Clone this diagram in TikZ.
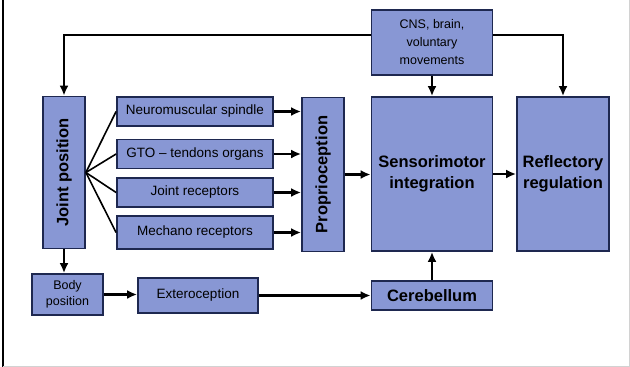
\documentclass[tikz,border=0pt]{standalone}
\usepackage{fontspec}
\usepackage{graphicx}
\setmainfont{Liberation Sans}
\usetikzlibrary{arrows.meta}
\definecolor{boxblue}{RGB}{136,151,212}
\definecolor{boxline}{RGB}{30,40,80}
\begin{document}
\begin{tikzpicture}[x=1pt,y=-1pt,
  main/.style={draw=boxline,line width=1.8pt,fill=boxblue,inner sep=1pt,align=center,font=\fontsize{13.5}{18}\selectfont},
  big/.style={main,font=\bfseries\fontsize{16.5}{21}\selectfont},
  arr/.style={-{Latex[length=10pt,width=9pt]},line width=2.2pt}]
\path[use as bounding box] (0,0) rectangle (630,367);
\draw[line width=1.8pt] (3,0) -- (3,367);
\draw[gray!35] (3,366) -- (629,366) -- (629,0);
% boxes
\node[main,minimum width=121,minimum height=65,font=\fontsize{12.5}{18}\selectfont] (cns) at (432,42.5) {CNS, brain,\\voluntary\\movements};
\node[big,minimum width=42,minimum height=152] (jp) at (64,172.5) {\rotatebox{90}{Joint position}};
\node[main,minimum width=156,minimum height=29] (ns) at (195,111.5) {Neuromuscular spindle};
\node[main,minimum width=156,minimum height=29] (gto) at (195,154) {GTO -- tendons organs};
\node[main,minimum width=156,minimum height=29] (jr) at (195,192.5) {Joint receptors};
\node[main,minimum width=156,minimum height=33] (mr) at (195,232.5) {Mechano receptors};
\node[big,minimum width=42,minimum height=154] (pro) at (323,174.5) {\rotatebox{90}{Proprioception}};
\node[big,minimum width=121,minimum height=154] (smi) at (432,174) {Sensorimotor\\integration};
\node[big,minimum width=92,minimum height=154] (ref) at (563,174) {Reflectory\\regulation};
\node[main,minimum width=71,minimum height=41,font=\fontsize{12.5}{16}\selectfont] (bp) at (67.5,294.5) {Body\\position};
\node[main,minimum width=120,minimum height=35] (ext) at (198,295.5) {Exteroception};
\node[big,minimum width=121,minimum height=29] (cer) at (432,295.5) {Cerebellum};
% connectors
\draw[arr] ([yshift=7.5pt]cns.west) -| (jp.north);
\draw[arr] ([yshift=7.5pt]cns.east) -| (ref.north);
\draw[arr] (cns.south) -- (smi.north);
\foreach \n in {ns,gto,jr,mr}
  \draw[line width=1.6pt] (jp.east) -- (\n.west);
\foreach \n in {ns,gto,jr,mr}
  \draw[arr] (\n.east) -- (\n.east -| pro.west);
\draw[arr] (pro.east) -- (pro.east -| smi.west);
\draw[arr] (smi.east) -- (smi.east -| ref.west);
\draw[arr] (jp.south) -- (jp.south |- bp.north);
\draw[arr] (bp.east) -- (bp.east -| ext.west);
\draw[arr] (ext.east) -- (ext.east -| cer.west);
\draw[arr] (cer.north) -- (smi.south);
\end{tikzpicture}
\end{document}
